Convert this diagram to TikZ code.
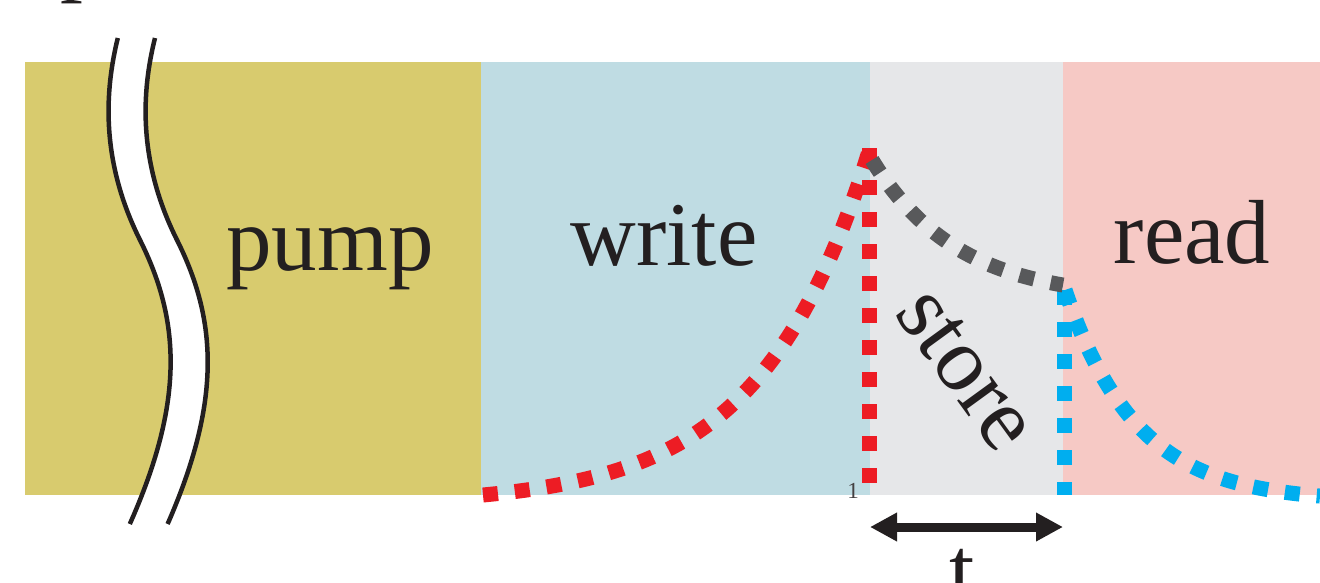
\documentclass[tikz,border=0pt]{standalone}
\usepackage{fontspec}
\setmainfont{Liberation Serif}
\usetikzlibrary{arrows.meta}

\definecolor{ink}{HTML}{231F20}
\definecolor{pumpfill}{HTML}{D8CB6E}
\definecolor{writefill}{HTML}{BFDCE3}
\definecolor{storefill}{HTML}{E6E7E9}
\definecolor{readfill}{HTML}{F6C9C5}
\definecolor{redline}{HTML}{ED1C24}
\definecolor{grayline}{HTML}{58595B}
\definecolor{blueline}{HTML}{00AEEF}

\begin{document}
\begin{tikzpicture}[x=1pt,y=-1pt,
  wordtext/.style={font=\fontsize{91}{100}\selectfont, text=ink, inner sep=0pt},
  dots/.style={line width=15pt, dash pattern=on 15pt off 17pt},
  breakline/.style={line width=4.5pt, draw=ink},
  spanarrow/.style={line width=9pt, draw=ink,
    {Triangle[length=27pt,width=27pt]}-{Triangle[length=27pt,width=27pt]}},
]
\useasboundingbox (0,0) rectangle (1320,582);
\clip (0,0) rectangle (1320,582);

% stage bands
\fill[pumpfill]  (25,62)   rectangle (481,495);
\fill[writefill] (481,62)  rectangle (870,495);
\fill[storefill] (870,62)  rectangle (1063,495);
\fill[readfill]  (1063,62) rectangle (1320,495);

% time-axis break
\coordinate (bl1) at (117.8,38);
\coordinate (bl2) at (140,240);
\coordinate (bl3) at (129.8,524);
\coordinate (br1) at (155,38);
\coordinate (br2) at (177,240);
\coordinate (br3) at (167.6,524);
\fill[white] (bl1) .. controls (105,90) and (100,160) .. (bl2)
  .. controls (180,320) and (185,400) .. (bl3)
  -- (br3) .. controls (222,400) and (217,320) .. (br2)
  .. controls (137,160) and (142,90) .. (br1) -- cycle;
\draw[breakline] (bl1) .. controls (105,90) and (100,160) .. (bl2)
  .. controls (180,320) and (185,400) .. (bl3);
\draw[breakline] (br1) .. controls (142,90) and (137,160) .. (br2)
  .. controls (217,320) and (222,400) .. (br3);

% stage labels
\node[wordtext, anchor=base] (pump)  at (330,270) {pump};
\node[wordtext, anchor=base] (write) at (664,265) {write};
\node[wordtext, anchor=base] (read)  at (1192,263) {read};
\node[wordtext, rotate=-54] (store) at (966,370) {store};
\node[wordtext, anchor=base west] (frag) at (60,-16) {p};
\node[font=\fontsize{23}{24}\selectfont, text=ink!85, inner sep=0pt, anchor=base] (one) at (853,498) {1};

% pulse envelopes
\coordinate (redtop) at (869,148);
\coordinate (redbot) at (869,495);
\coordinate (bluetop) at (1064,290);
\coordinate (bluebot) at (1064,495);

\draw[dots, redline] plot[domain=483:869, samples=90] (\x, {495-10.15*(exp(0.0092*(\x-483))-1)});
\draw[dots, redline] (redtop) -- (redbot);

\draw[dots, blueline] (bluetop) -- (bluebot);
\draw[dots, blueline] plot[domain=1065:1320, samples=80] (\x, {290+212*(1-exp(-0.014*(\x-1065)))});

\draw[dots, grayline] plot[domain=872:1063, samples=60] (\x, {160+140*(1-exp(-0.0117*(\x-872)))});

% storage time
\coordinate (tl) at (870,527);
\coordinate (tr) at (1063,527);
\draw[spanarrow] (tl) -- (tr);
\node[wordtext, anchor=base] (t) at (962,600) {t};
\end{tikzpicture}
\end{document}
